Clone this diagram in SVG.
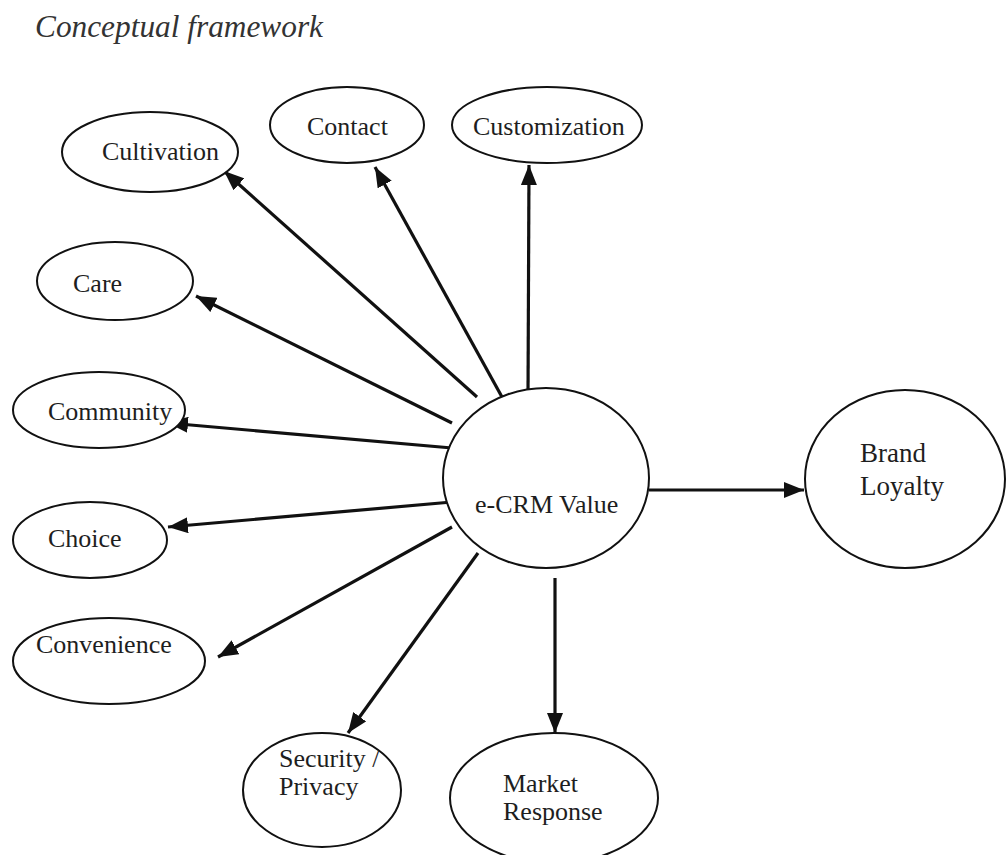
<svg xmlns="http://www.w3.org/2000/svg" width="1006" height="855" viewBox="0 0 1006 855">
<style>
  .node ellipse { fill: #ffffff; stroke: #111111; stroke-width: 2; }
  .node text, .title { font-family: "Liberation Serif", "Times New Roman", serif; fill: #1e1e1e; }
  .node text { font-size: 26px; }
  .title { font-size: 31px; font-style: italic; fill: #333333; }
  .conn line { stroke: #111111; stroke-width: 3.2; marker-end: url(#arrow); }
</style>
<defs>
  <marker id="arrow" markerUnits="userSpaceOnUse" markerWidth="20" markerHeight="16" refX="20" refY="8" orient="auto">
    <path d="M0,0 L20,8 L0,16 z" fill="#111111"/>
  </marker>
</defs>
<rect width="1006" height="855" fill="#ffffff"/>
<text class="title" x="35" y="37" textLength="288" lengthAdjust="spacingAndGlyphs">Conceptual framework</text>

<g class="conn">
  <line x1="528" y1="398" x2="529" y2="165"/>
  <line x1="502" y1="397" x2="375" y2="167"/>
  <line x1="477" y1="397" x2="224" y2="171"/>
  <line x1="452" y1="423" x2="196" y2="296"/>
  <line x1="452" y1="448" x2="168" y2="423"/>
  <line x1="452" y1="502" x2="168" y2="527"/>
  <line x1="452" y1="527" x2="218" y2="657"/>
  <line x1="478" y1="553" x2="348" y2="733"/>
  <line x1="555" y1="578" x2="555" y2="733"/>
  <line x1="649" y1="490" x2="804" y2="490"/>
</g>

<g id="cultivation" class="node">
  <ellipse cx="150" cy="152" rx="88" ry="40"/>
  <text x="102" y="160">Cultivation</text>
</g>
<g id="contact" class="node">
  <ellipse cx="347" cy="125" rx="77" ry="38"/>
  <text x="307" y="135">Contact</text>
</g>
<g id="customization" class="node">
  <ellipse cx="547" cy="125" rx="95" ry="38"/>
  <text x="473" y="135">Customization</text>
</g>
<g id="care" class="node">
  <ellipse cx="115" cy="281" rx="78" ry="39"/>
  <text x="73" y="292">Care</text>
</g>
<g id="community" class="node">
  <ellipse cx="99" cy="410" rx="86" ry="38"/>
  <text x="48" y="420">Community</text>
</g>
<g id="choice" class="node">
  <ellipse cx="90" cy="540" rx="77" ry="38"/>
  <text x="48" y="547">Choice</text>
</g>
<g id="convenience" class="node">
  <ellipse cx="109" cy="661" rx="96" ry="43"/>
  <text x="36" y="653">Convenience</text>
</g>
<g id="ecrm" class="node">
  <ellipse cx="546" cy="478" rx="103" ry="90"/>
  <text x="475" y="513">e-CRM Value</text>
</g>
<g id="security" class="node">
  <ellipse cx="322" cy="790" rx="79" ry="57"/>
  <text x="279" y="767">Security /</text>
  <text x="279" y="795">Privacy</text>
</g>
<g id="market" class="node">
  <ellipse cx="554" cy="798" rx="104" ry="65"/>
  <text x="503" y="792">Market</text>
  <text x="503" y="820">Response</text>
</g>
<g id="brand" class="node">
  <ellipse cx="905" cy="479" rx="100" ry="89"/>
  <text x="860" y="462" style="font-size:27px">Brand</text>
  <text x="860" y="495" style="font-size:27px">Loyalty</text>
</g>
</svg>
